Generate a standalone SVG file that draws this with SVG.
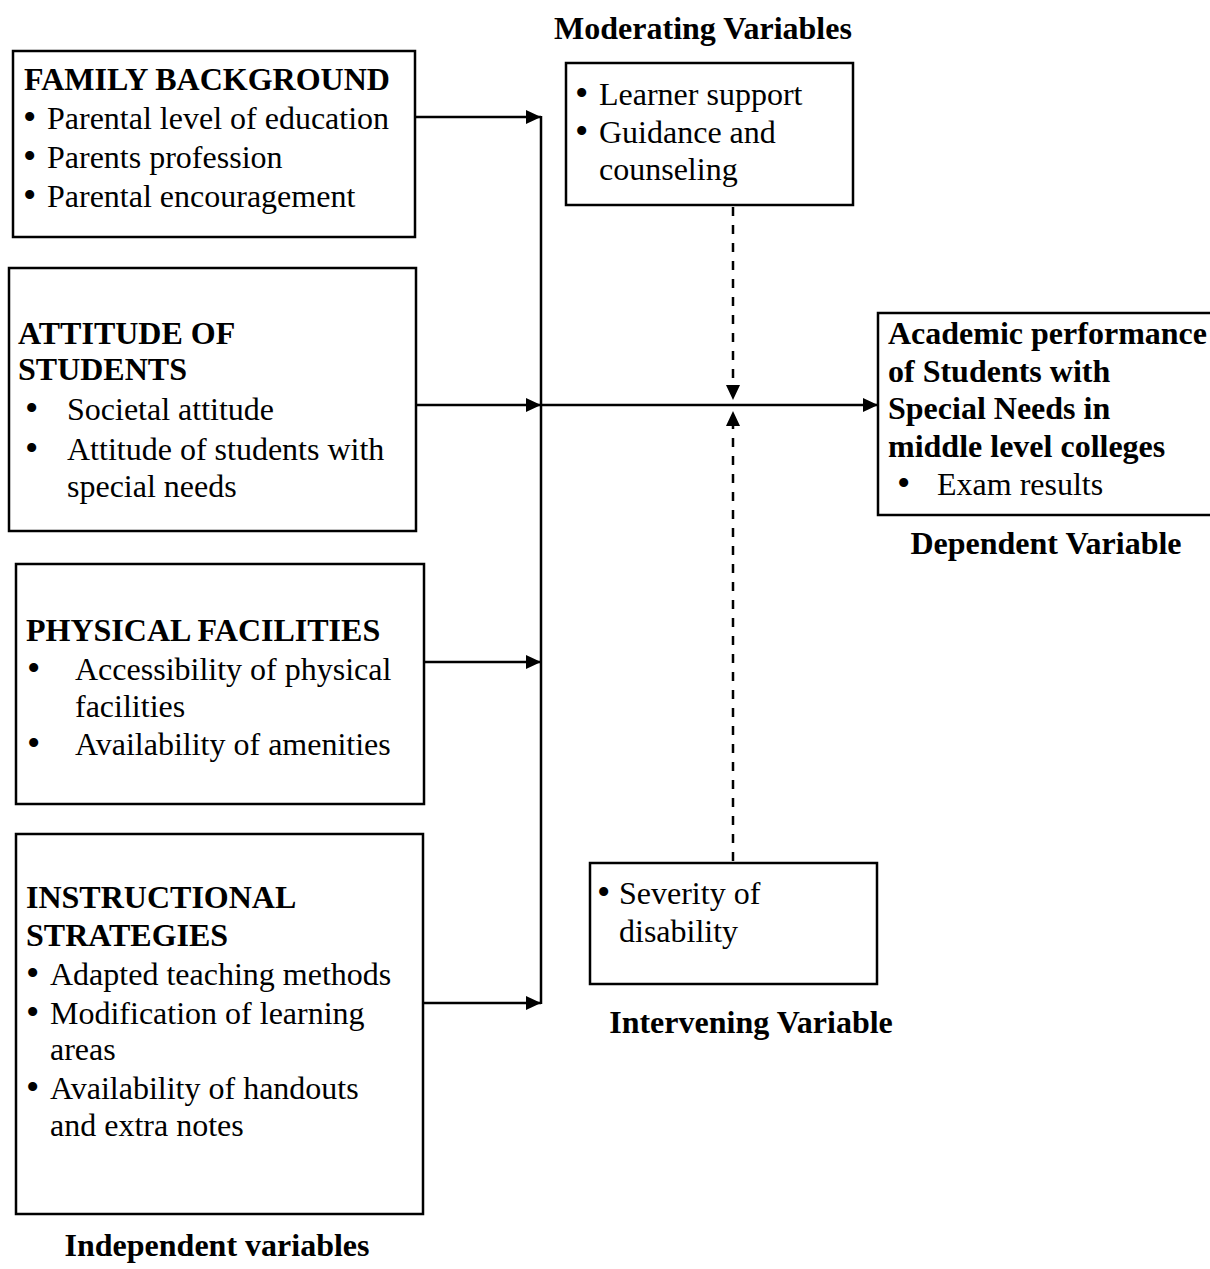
<svg xmlns="http://www.w3.org/2000/svg" width="1210" height="1269" viewBox="0 0 1210 1269">
<style>
text{font-family:"Liberation Serif","Times New Roman",serif;font-size:32px;fill:#000}
.b{font-weight:bold}
.c{text-anchor:middle}
.bu{font-size:38px}
.box{fill:#fff;stroke:#000;stroke-width:2.5}
.ln{fill:none;stroke:#000;stroke-width:2.5}
.dash{fill:none;stroke:#000;stroke-width:2.5;stroke-dasharray:9 9}
</style>
<defs>
<marker id="ah" markerUnits="userSpaceOnUse" markerWidth="16" markerHeight="14" refX="15" refY="7" orient="auto">
<path d="M0,0 L15,7 L0,14 Z" fill="#000"/>
</marker>
</defs>
<rect width="1210" height="1269" fill="#fff"/>

<g id="connectors">
<line class="ln" x1="415" y1="117" x2="541" y2="117" marker-end="url(#ah)"/>
<line class="ln" x1="541" y1="116" x2="541" y2="1004"/>
<line class="ln" x1="416" y1="405" x2="541" y2="405" marker-end="url(#ah)"/>
<line class="ln" x1="541" y1="405" x2="878" y2="405" marker-end="url(#ah)"/>
<line class="ln" x1="424" y1="662" x2="541" y2="662" marker-end="url(#ah)"/>
<line class="ln" x1="423" y1="1003" x2="541" y2="1003" marker-end="url(#ah)"/>
<line class="dash" x1="733" y1="207" x2="733" y2="400" marker-end="url(#ah)"/>
<line class="dash" x1="733" y1="861" x2="733" y2="411" marker-end="url(#ah)"/>
</g>

<g id="family">
<rect class="box" x="13" y="51" width="402" height="186"/>
<text class="b" x="24" y="90">FAMILY BACKGROUND</text>
<text class="bu" x="23" y="130">•</text><text x="47" y="129">Parental level of education</text>
<text class="bu" x="23" y="169">•</text><text x="47" y="168">Parents profession</text>
<text class="bu" x="23" y="208">•</text><text x="47" y="207">Parental encouragement</text>
</g>

<g id="attitude">
<rect class="box" x="9" y="268" width="407" height="263"/>
<text class="b" x="18" y="344">ATTITUDE OF</text>
<text class="b" x="18" y="380">STUDENTS</text>
<text class="bu" x="25" y="421">•</text><text x="67" y="420">Societal attitude</text>
<text class="bu" x="25" y="461">•</text><text x="67" y="460">Attitude of students with</text>
<text x="67" y="497">special needs</text>
</g>

<g id="physical">
<rect class="box" x="16" y="564" width="408" height="240"/>
<text class="b" x="26" y="641">PHYSICAL FACILITIES</text>
<text class="bu" x="27" y="681">•</text><text x="75" y="680">Accessibility of physical</text>
<text x="75" y="717">facilities</text>
<text class="bu" x="27" y="756">•</text><text x="75" y="755">Availability of amenities</text>
</g>

<g id="instructional">
<rect class="box" x="16" y="834" width="407" height="380"/>
<text class="b" x="26" y="908">INSTRUCTIONAL</text>
<text class="b" x="26" y="946">STRATEGIES</text>
<text class="bu" x="26" y="986">•</text><text x="50" y="985">Adapted teaching methods</text>
<text class="bu" x="26" y="1025">•</text><text x="50" y="1024">Modification of learning</text>
<text x="50" y="1060">areas</text>
<text class="bu" x="26" y="1100">•</text><text x="50" y="1099">Availability of handouts</text>
<text x="50" y="1136">and extra notes</text>
</g>
<text id="independent-label" class="b c" x="217" y="1256">Independent variables</text>

<text id="moderating-label" class="b c" x="703" y="39">Moderating Variables</text>
<g id="moderating">
<rect class="box" x="566" y="63" width="287" height="142"/>
<text class="bu" x="575" y="106">•</text><text x="599" y="105">Learner support</text>
<text class="bu" x="575" y="144">•</text><text x="599" y="143">Guidance and</text>
<text x="599" y="180">counseling</text>
</g>

<g id="intervening">
<rect class="box" x="590" y="863" width="287" height="121"/>
<text class="bu" x="597" y="905">•</text><text x="619" y="904">Severity of</text>
<text x="619" y="942">disability</text>
</g>
<text id="intervening-label" class="b c" x="751" y="1033">Intervening Variable</text>

<g id="dependent">
<rect class="box" x="878" y="313" width="345" height="202"/>
<text class="b" x="888" y="344">Academic performance</text>
<text class="b" x="888" y="382">of Students with</text>
<text class="b" x="888" y="419">Special Needs in</text>
<text class="b" x="888" y="457">middle level colleges</text>
<text class="bu" x="897" y="496">•</text><text x="937" y="495">Exam results</text>
</g>
<text id="dependent-label" class="b c" x="1046" y="554">Dependent Variable</text>
</svg>
